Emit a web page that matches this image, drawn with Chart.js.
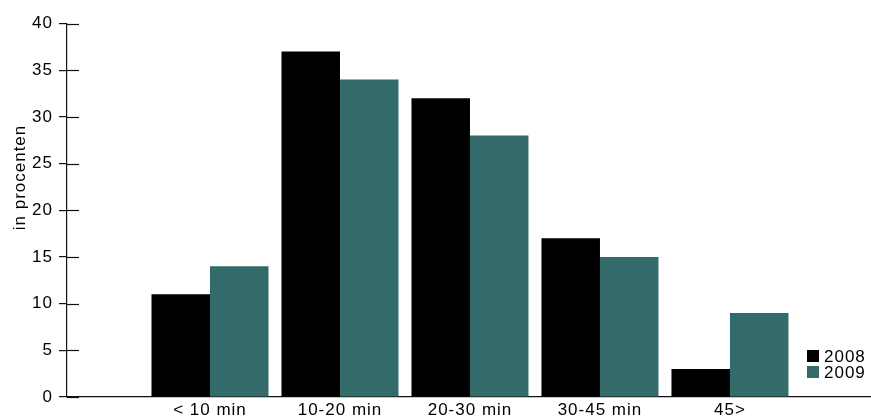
<!DOCTYPE html>
<html>
<head>
<meta charset="utf-8">
<script src="https://cdn.jsdelivr.net/npm/chart.js@4"></script>
<style>
  html, body { margin: 0; padding: 0; background: #fff; }
  #wrap { width: 871px; height: 418px; position: relative; }
</style>
</head>
<body>
<div id="wrap"><canvas id="c"></canvas></div>
<script>
const categories = ['< 10 min', '10-20 min', '20-30 min', '30-45 min', '45>'];
const seriesNames = ['2008', '2009'];
const values2008 = [11, 37, 32, 17, 3];
const values2009 = [14, 34, 28, 15, 9];
const yTitle = 'in procenten';

const FONT = '"Liberation Sans", Arial, Helvetica, sans-serif';
const colors = ['#000000', '#336a6a'];

const spacingPlugin = {
  id: 'spacing',
  beforeUpdate(c) { c.ctx.letterSpacing = '1px'; },
  beforeDraw(c) { c.ctx.letterSpacing = '1px'; }
};

const innerTicks = {
  id: 'innerTicks',
  afterDraw(c) {
    const y = c.scales.y, ctx = c.ctx, left = c.chartArea.left;
    ctx.save();
    ctx.strokeStyle = '#111';
    ctx.lineWidth = 1.2;
    y.ticks.forEach(t => {
      const py = Math.round(y.getPixelForValue(t.value)) + 0.5;
      ctx.beginPath();
      ctx.moveTo(left, py);
      ctx.lineTo(left + 12, py);
      ctx.stroke();
    });
    ctx.restore();
  }
};

const titleLegend = {
  id: 'titleLegend',
  afterDraw(c) {
    const ctx = c.ctx;
    ctx.save();
    ctx.letterSpacing = '1px';
    ctx.fillStyle = '#000';
    ctx.font = '17px ' + FONT;
    ctx.translate(20, 177.5);
    ctx.rotate(-Math.PI / 2);
    ctx.textAlign = 'center';
    ctx.textBaseline = 'middle';
    ctx.fillText(yTitle, 0, 0);
    ctx.restore();

    ctx.save();
    ctx.letterSpacing = '1px';
    ctx.font = '17px ' + FONT;
    ctx.textBaseline = 'middle';
    ctx.textAlign = 'left';
    c.data.datasets.forEach((ds, i) => {
      ctx.fillStyle = ds.backgroundColor;
      ctx.fillRect(807, 350 + 16 * i, 12, 12);
      ctx.fillStyle = '#000';
      ctx.fillText(ds.label, 824, 357 + 16 * i);
    });
    ctx.restore();
  }
};

const toPoints = arr => arr.map((v, i) => ({ x: i, y: v }));

new Chart(document.getElementById('c'), {
  type: 'bar',
  data: {
    datasets: [
      { label: seriesNames[0], data: toPoints(values2008), backgroundColor: colors[0], borderWidth: 0 },
      { label: seriesNames[1], data: toPoints(values2009), backgroundColor: colors[1], borderWidth: 0 }
    ]
  },
  options: {
    responsive: true,
    maintainAspectRatio: false,
    animation: false,
    devicePixelRatio: 1,
    layout: { padding: { top: 23.5, right: 0, bottom: 0, left: 0 } },
    datasets: { bar: { categoryPercentage: 0.9, barPercentage: 1.0 } },
    plugins: { legend: { display: false }, tooltip: { enabled: false } },
    scales: {
      x: {
        type: 'linear',
        offset: false,
        min: -1.1,
        max: 5.085,
        afterBuildTicks(scale) { scale.ticks = categories.map((_, i) => ({ value: i })); },
        afterFit(scale) { scale.height = 21; },
        grid: { display: false, drawTicks: false, offset: false },
        border: { display: true, color: '#111', width: 1.2 },
        ticks: {
          autoSkip: false,
          maxRotation: 0,
          padding: 3,
          color: '#000',
          font: { family: FONT, size: 17 },
          callback: (v) => categories[v] !== undefined ? categories[v] : ''
        }
      },
      y: {
        min: 0,
        max: 40,
        afterFit(scale) { scale.width = 67; },
        grid: { drawOnChartArea: false, drawTicks: true, tickLength: 8, color: '#111', lineWidth: 1.2 },
        border: { display: true, color: '#111', width: 1.2 },
        ticks: {
          stepSize: 5,
          padding: 6,
          color: '#000',
          font: { family: FONT, size: 17 }
        }
      }
    }
  },
  plugins: [spacingPlugin, innerTicks, titleLegend]
});
</script>
</body>
</html>
